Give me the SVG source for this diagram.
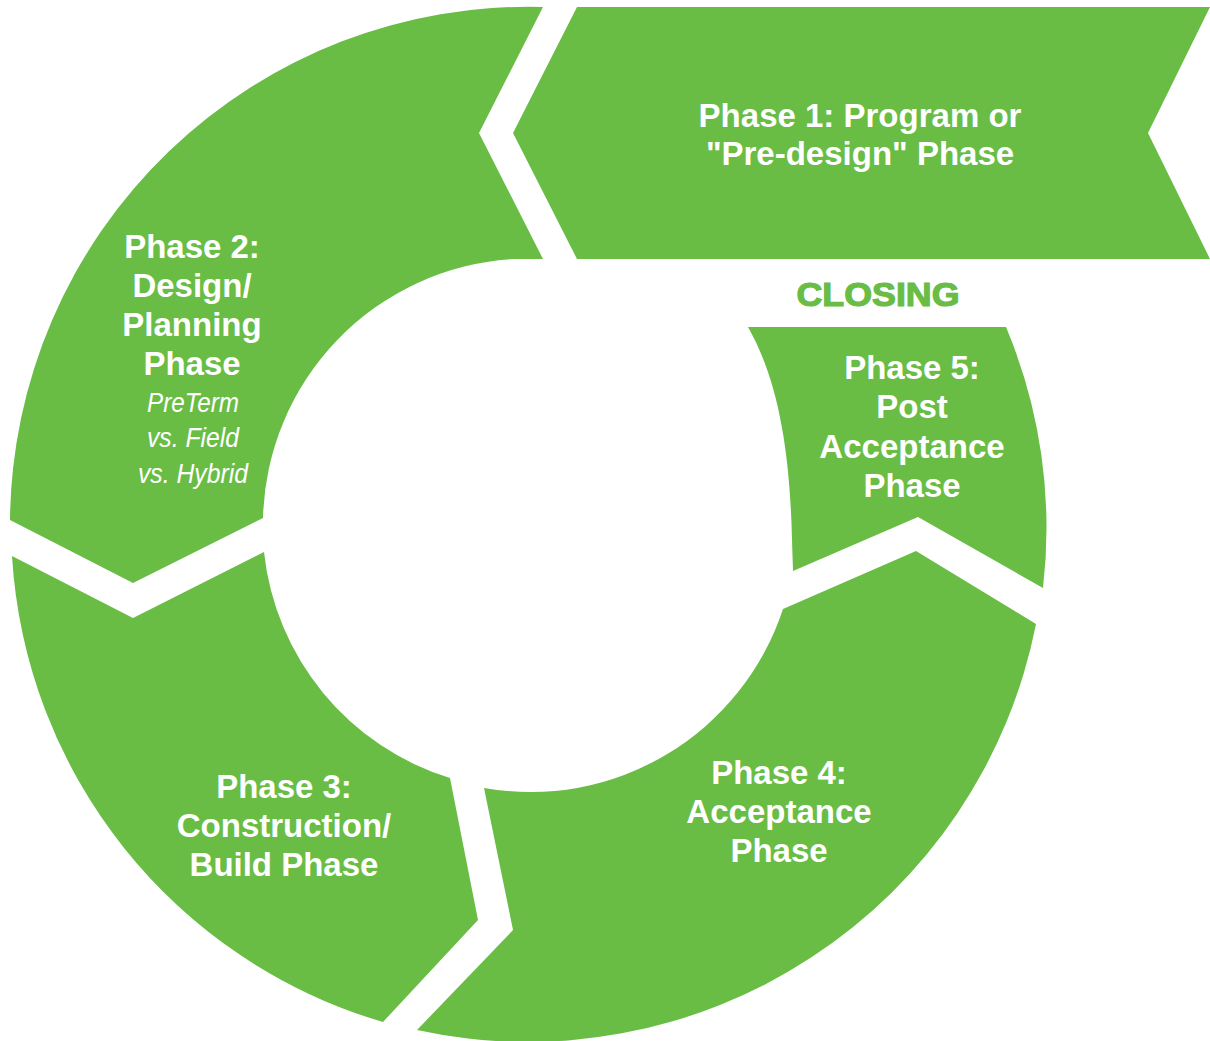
<svg xmlns="http://www.w3.org/2000/svg" width="1210" height="1041" viewBox="0 0 1210 1041">
<style>
.seg{fill:#69BD45;}
.t{font-family:"Liberation Sans",Arial,sans-serif;font-weight:bold;font-size:33px;fill:#ffffff;text-anchor:middle;}
.it{font-family:"Liberation Sans",Arial,sans-serif;font-style:italic;font-size:27px;fill:#ffffff;text-anchor:middle;}
.cl{font-family:"Liberation Sans",Arial,sans-serif;font-weight:bold;font-size:33px;fill:#69BD45;stroke:#69BD45;stroke-width:1.2;text-anchor:middle;}
</style>
<rect width="1210" height="1041" fill="#ffffff"/>
<g id="phase1">
<path class="seg" d="M577,7 L1210,7 L1148,133 L1210,259 L577,259 L513,133 Z"/>
<text class="t" x="860" y="127">Phase 1: Program or</text>
<text class="t" x="860" y="165">"Pre-design" Phase</text>
</g>
<g id="phase2">
<path class="seg" d="M543,7 L479,133 L543,259 L513,259 A266,266 0 0 0 263,518 L133,583 L10,520 A518,518 0 0 1 543,7 Z"/>
<text class="t" x="192" y="258">Phase 2:</text>
<text class="t" x="192" y="297">Design/</text>
<text class="t" x="192" y="336">Planning</text>
<text class="t" x="192" y="375">Phase</text>
<text class="it" x="193" y="412" textLength="92" lengthAdjust="spacingAndGlyphs">PreTerm</text>
<text class="it" x="193" y="447" textLength="92" lengthAdjust="spacingAndGlyphs">vs. Field</text>
<text class="it" x="193" y="483" textLength="110" lengthAdjust="spacingAndGlyphs">vs. Hybrid</text>
</g>
<g id="phase3">
<path class="seg" d="M12,556 L133,618 L264,552 A266,266 0 0 0 450,778 L478,920 L383,1022 A518,518 0 0 1 12,556 Z"/>
<text class="t" x="284" y="798">Phase 3:</text>
<text class="t" x="284" y="837">Construction/</text>
<text class="t" x="284" y="876">Build Phase</text>
</g>
<g id="phase4">
<path class="seg" d="M484,788 L513,930 L417,1030 A518,518 0 0 0 1036,624 L916,551 L783,609 A266,266 0 0 1 484,788 Z"/>
<text class="t" x="779" y="784">Phase 4:</text>
<text class="t" x="779" y="823">Acceptance</text>
<text class="t" x="779" y="862">Phase</text>
</g>
<g id="phase5">
<path class="seg" d="M748,327 L1006,327 A518,518 0 0 1 1043,588 L918,517 L793,571 L792,540 C790,450 778,380 748,327 Z"/>
<text class="t" x="912" y="379">Phase 5:</text>
<text class="t" x="912" y="418">Post</text>
<text class="t" x="912" y="458">Acceptance</text>
<text class="t" x="912" y="497">Phase</text>
</g>
<g id="closing">
<text class="cl" x="878" y="306" textLength="163" lengthAdjust="spacingAndGlyphs">CLOSING</text>
</g>
<g id="connectors"/>
</svg>
